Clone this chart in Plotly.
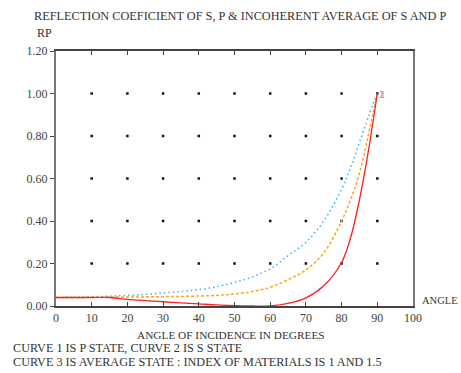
import plotly.graph_objects as go

angles = [0, 5, 10, 15, 20, 25, 30, 35, 40, 45, 50, 55, 60, 65, 70, 75, 80, 82.5, 85, 87.5, 90]
rp_curve1 = [0.040, 0.040, 0.040, 0.040, 0.031, 0.025, 0.020, 0.015, 0.010, 0.005, 0.002, 0.000, 0.001, 0.012, 0.038, 0.095, 0.205, 0.320, 0.500, 0.730, 1.000]
rs_curve2 = [0.040, 0.041, 0.043, 0.046, 0.050, 0.055, 0.061, 0.068, 0.077, 0.091, 0.111, 0.137, 0.175, 0.237, 0.300, 0.400, 0.550, 0.650, 0.770, 0.890, 1.000]
avg_curve3 = [0.040, 0.040, 0.041, 0.042, 0.042, 0.043, 0.044, 0.045, 0.047, 0.050, 0.057, 0.068, 0.088, 0.124, 0.170, 0.250, 0.400, 0.500, 0.625, 0.805, 1.000]

grid_x = [10, 20, 30, 40, 50, 60, 70, 80, 90]
grid_y = [0.2, 0.4, 0.6, 0.8, 1.0]
x_ticks = [0, 10, 20, 30, 40, 50, 60, 70, 80, 90, 100]
y_ticks = [0.0, 0.2, 0.4, 0.6, 0.8, 1.0, 1.2]

FONT = "Liberation Serif"
TXT = "#333333"
FS = 12

fig = go.Figure()

gx = [x for x in grid_x for _ in grid_y]
gy = [y for _ in grid_x for y in grid_y]
fig.add_trace(go.Scatter(x=gx, y=gy, mode="markers",
                         marker=dict(symbol="square", size=2.5, color="#111111"),
                         hoverinfo="skip", showlegend=False))

fig.add_trace(go.Scatter(x=angles, y=rs_curve2, mode="lines", line_shape="spline",
                         line=dict(color="#45b4ff", width=1.6, dash="1.5px,3px"),
                         showlegend=False))
fig.add_trace(go.Scatter(x=angles, y=avg_curve3, mode="lines", line_shape="spline",
                         line=dict(color="#ffa526", width=1.5, dash="3px,2px"),
                         showlegend=False))
fig.add_trace(go.Scatter(x=angles, y=rp_curve1, mode="lines", line_shape="spline",
                         line=dict(color="#ff2020", width=1.3),
                         showlegend=False))

fig.update_layout(
    width=461, height=373,
    margin=dict(l=56, r=48, t=51, b=67),
    paper_bgcolor="white", plot_bgcolor="white",
    font=dict(family=FONT, size=FS, color=TXT),
    showlegend=False,
)
fig.update_xaxes(range=[0, 100], tickvals=x_ticks, ticktext=[str(v) for v in x_ticks],
                 ticks="inside", ticklen=4, tickcolor="#444444",
                 showline=True, linecolor="#444444", linewidth=1.5, mirror="ticks",
                 showgrid=False, zeroline=False,
                 tickfont=dict(family=FONT, size=FS, color="#444444"))
fig.update_yaxes(range=[0, 1.2], tickvals=y_ticks, ticktext=["%.2f" % v for v in y_ticks],
                 ticks="outside", ticklen=4, tickcolor="#444444",
                 showline=True, linecolor="#777777", linewidth=2, mirror=True,
                 showgrid=False, zeroline=False,
                 tickfont=dict(family=FONT, size=FS, color="#444444"))

ann = [
    dict(text="REFLECTION COEFICIENT OF S, P &amp; INCOHERENT AVERAGE OF S AND P", x=-0.0644, y=1.137,
         xanchor="left", yanchor="middle", size=12.3),
    dict(text="RP", x=-0.056, y=1.07, xanchor="left", yanchor="middle", size=FS),
    dict(text="ANGLE", x=1.022, y=0.02, xanchor="left", yanchor="middle", size=10.5),
    dict(text="ANGLE OF INCIDENCE IN DEGREES", x=0.49, y=-0.114, xanchor="center", yanchor="middle", size=11.3),
    dict(text="CURVE 1 IS P STATE, CURVE 2 IS S STATE", x=-0.123, y=-0.165, xanchor="left", yanchor="middle", size=12.2),
    dict(text="CURVE 3 IS AVERAGE STATE : INDEX OF MATERIALS IS 1 AND 1.5", x=-0.123, y=-0.22,
         xanchor="left", yanchor="middle", size=12.2),
]
for a in ann:
    sz = a.pop("size")
    fig.add_annotation(xref="paper", yref="paper", showarrow=False, borderpad=0,
                       font=dict(family=FONT, size=sz, color=TXT), **a)

for lab, col in [("1", "#ff2020"), ("2", "#ffa526"), ("3", "#45b4ff")]:
    fig.add_annotation(x=angles[-1], y=rp_curve1[-1], xref="x", yref="y", text=lab, showarrow=False,
                       xanchor="left", yanchor="middle", xshift=0,
                       font=dict(family=FONT, size=11, color=col), opacity=0.7)

fig.write_html("out.html")
